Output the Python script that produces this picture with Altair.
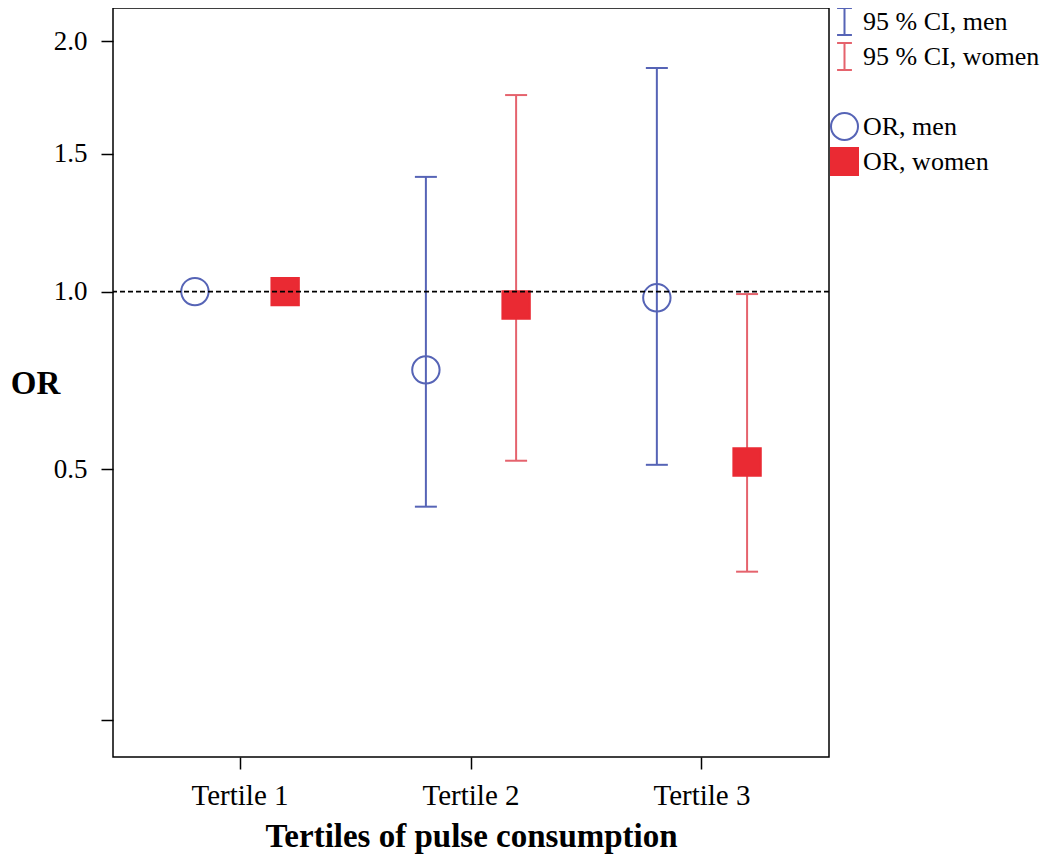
import altair as alt
import pandas as pd

tertiles = ["Tertile 1", "Tertile 2", "Tertile 3"]
or_men = [1.0, 0.762, 0.980]
lo_men = [None, 0.412, 0.511]
hi_men = [None, 1.408, 1.872]
or_women = [1.0, 0.957, 0.518]
lo_women = [None, 0.521, 0.271]
hi_women = [None, 1.749, 0.992]

legend_labels = ["95 % CI, men", "95 % CI, women", " ", "OR, men", "OR, women"]

BLUE = "#5664b6"
RED_CI = "#e5636d"
RED = "#ea2a33"
FONT = "Liberation Serif"

rows = []
for i, t in enumerate(tertiles):
    rows.append(dict(tertile=t, sex="men", orv=or_men[i], lo=lo_men[i], hi=hi_men[i], key="OR, men"))
    rows.append(dict(tertile=t, sex="women", orv=or_women[i], lo=lo_women[i], hi=hi_women[i], key="OR, women"))
df = pd.DataFrame(rows)
ci = df.dropna(subset=["lo"])

ibar = "M-0.55,-1H0.55M0,-1V1M-0.55,1H0.55"

xenc = alt.X("tertile:N", scale=alt.Scale(type="band", domain=tertiles, paddingInner=0, paddingOuter=0.05),
             axis=alt.Axis(title="Tertiles of pulse consumption", labelAngle=0))
xoff = alt.XOffset("sex:N", scale=alt.Scale(domain=["men", "women"], paddingInner=0, paddingOuter=0.28))
yscale = alt.Scale(type="symlog", constant=1, domain=[-0.062, 2.165], nice=False, zero=False)
yaxis = alt.Axis(title="OR", values=[0, 0.5, 1, 1.5, 2],
                 labelExpr="datum.value == 0 ? '' : format(datum.value, '.1f')",
                 titleAngle=0, titleX=-78, titleY=375, titleAlign="center", titleBaseline="middle")
csex = alt.Color("sex:N", scale=alt.Scale(domain=["men", "women"], range=[BLUE, RED_CI]), legend=None)

leg = alt.Legend(title=None, orient="none", legendX=717, legendY=-1, symbolSize=729,
                 symbolStrokeWidth=2, labelOffset=4, rowPadding=0, padding=0, labelLimit=400,
                 labelFont=FONT, labelFontSize=26, labelColor="black", values=legend_labels)

base = alt.Chart(ci)

rules = base.mark_rule(strokeWidth=2).encode(
    x=xenc, xOffset=xoff, y=alt.Y("lo:Q", scale=yscale, axis=yaxis), y2="hi:Q", color=csex)
caps_lo = base.mark_tick(size=22, thickness=2, opacity=1).encode(
    x=xenc, xOffset=xoff, y=alt.Y("lo:Q", scale=yscale), color=csex)
caps_hi = base.mark_tick(size=22, thickness=2, opacity=1).encode(
    x=xenc, xOffset=xoff, y=alt.Y("hi:Q", scale=yscale), color=csex)

points = alt.Chart(df).mark_point(size=750, strokeWidth=2, opacity=1).encode(
    x=xenc, xOffset=xoff, y=alt.Y("orv:Q", scale=yscale),
    shape=alt.Shape("key:N", scale=alt.Scale(domain=legend_labels,
                    range=[ibar, ibar, "circle", "circle", "square"]), legend=leg),
    fill=alt.Fill("key:N", scale=alt.Scale(domain=legend_labels,
                  range=["transparent", "transparent", "transparent", "transparent", RED]), legend=leg),
    stroke=alt.Stroke("key:N", scale=alt.Scale(domain=legend_labels,
                      range=[BLUE, RED_CI, "transparent", BLUE, RED]), legend=leg),
)

refline = alt.Chart(pd.DataFrame({"v": [1.0]})).mark_rule(
    color="black", strokeDash=[5, 3], strokeWidth=1.6).encode(y=alt.Y("v:Q", scale=yscale))

chart = alt.layer(rules, caps_lo, caps_hi, points, refline).resolve_scale(color="independent").properties(
    width=716, height=749,
    autosize=alt.AutoSizeParams(type="none"),
    padding={"left": 105, "top": 0, "right": 212, "bottom": 101},
).configure_view(stroke="black", strokeWidth=1.5).configure_axis(
    domain=False, grid=False, tickColor="black", tickWidth=1.5, tickSize=12,
    labelFont=FONT, labelFontSize=27, labelColor="black", labelPadding=14,
    titleFont=FONT, titleFontSize=33, titleFontWeight="bold", titleColor="black",
).configure_axisX(titlePadding=10, labelPadding=12, labelFontSize=29)

chart.save("out.html", embed_options={"renderer": "svg", "actions": False})
